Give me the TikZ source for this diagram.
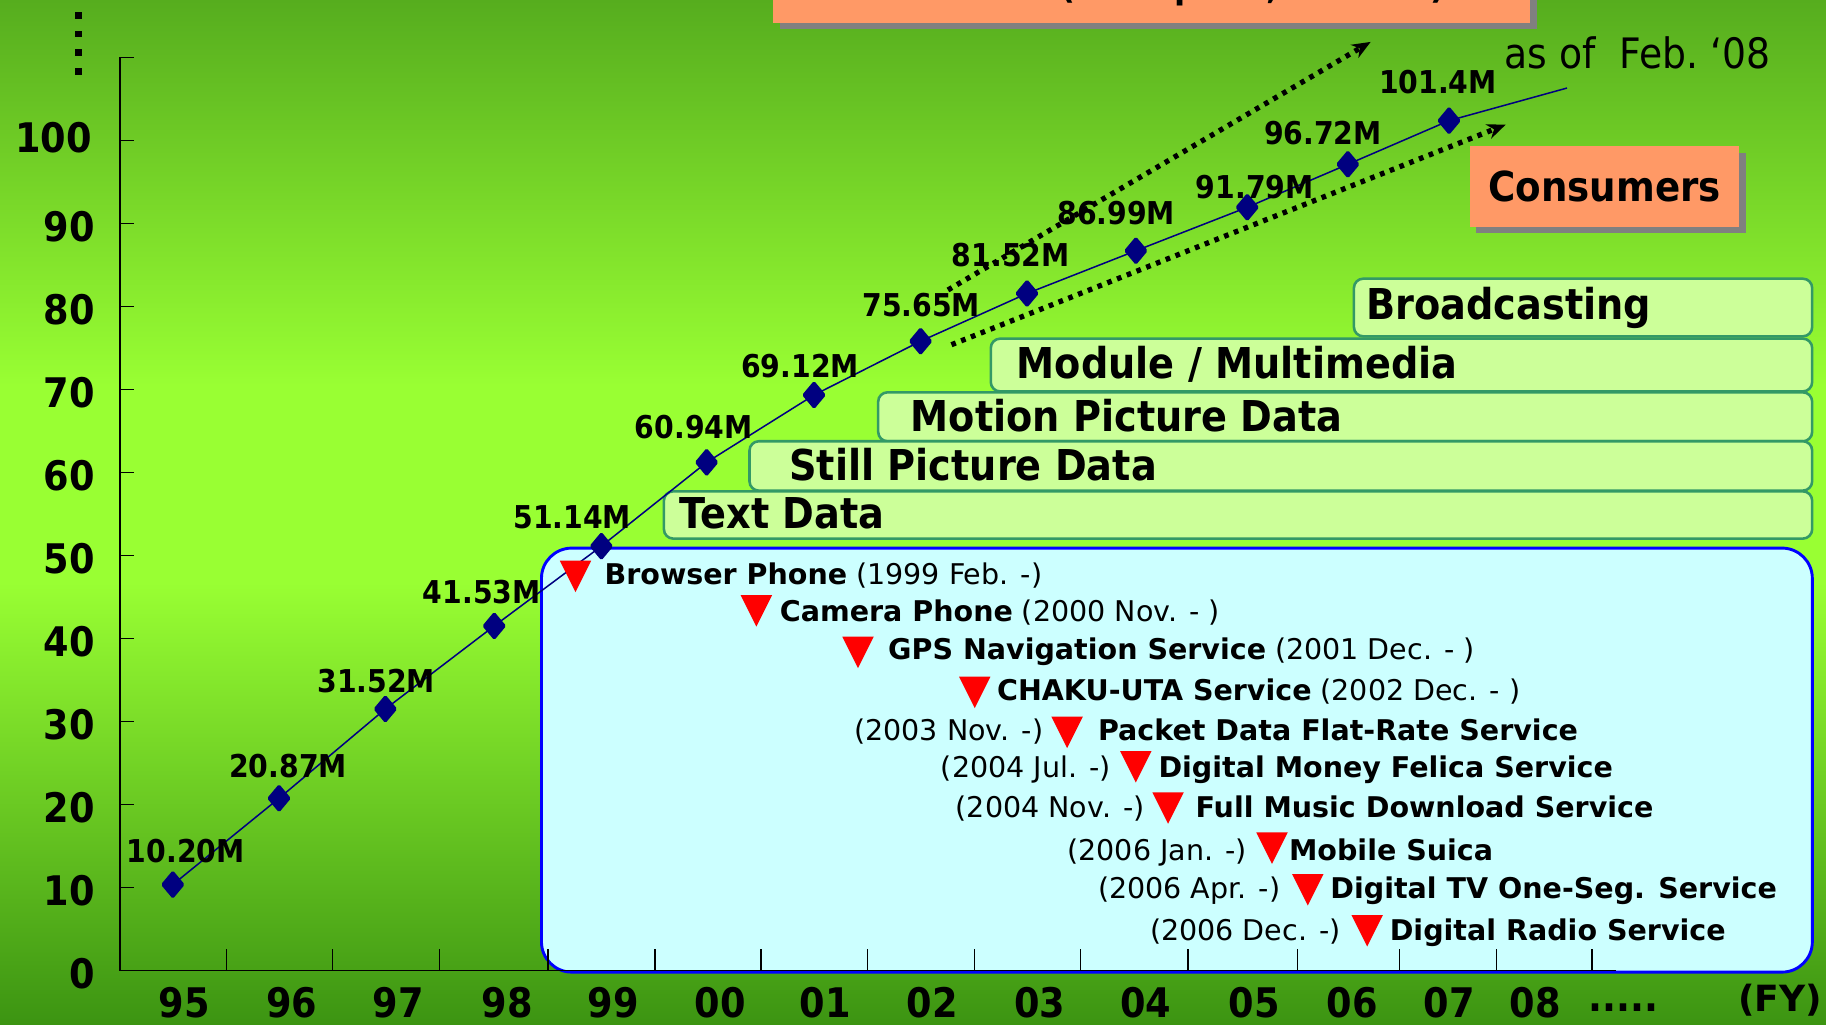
\documentclass[tikz,border=0pt]{standalone}
\usepackage{fontspec}
\setmainfont{DejaVu Sans}
\newfontfamily\fN{DejaVu Sans}[FakeStretch=0.9]
\usetikzlibrary{arrows.meta,shapes.geometric,shadows}
\definecolor{bgTop}{HTML}{56AD1E}
\definecolor{bgMid}{HTML}{99FF33}
\definecolor{bgBot}{HTML}{3C9412}
\definecolor{navyD}{HTML}{000080}
\definecolor{layerFill}{HTML}{CCFF99}
\definecolor{layerLine}{HTML}{339966}
\definecolor{evFill}{HTML}{CCFFFF}
\definecolor{evLine}{HTML}{0000FF}
\definecolor{evRed}{HTML}{FF0000}
\definecolor{orangeF}{HTML}{FF9966}
\definecolor{shadowG}{HTML}{808080}
\tikzset{
  ylab/.style={font=\fN\bfseries\fontsize{35}{38}\selectfont, anchor=east, inner sep=0pt},
  xlab/.style={font=\fN\bfseries\fontsize{35}{38}\selectfont, anchor=base, inner sep=0pt},
  dlab/.style={font=\fN\bfseries\fontsize{27}{30}\selectfont, inner sep=0pt},
  dpt/.style={diamond, fill=navyD, minimum width=20.5pt, minimum height=24.5pt, inner sep=0pt, outer sep=0pt, rounded corners=1.5pt},
  dline/.style={draw=navyD, line width=1.3pt},
  axisline/.style={draw=black, line width=1.2pt},
  layerbox/.style={draw=layerLine, fill=layerFill, line width=2.2pt, rounded corners=8pt, anchor=north west, inner sep=0pt},
  layertext/.style={font=\fN\bfseries\fontsize{36.5}{40}\selectfont, anchor=base west, inner sep=0pt},
  evbox/.style={draw=evLine, fill=evFill, line width=2.5pt, rounded corners=26pt, anchor=north west, inner sep=0pt},
  evtext/.style={font=\fontsize{24.5}{28}\selectfont, anchor=base west, inner sep=0pt},
  evbold/.style={font=\bfseries\fontsize{24.5}{28}\selectfont, anchor=base west, inner sep=0pt},
  evtri/.pic={\fill[evRed] (-13.5,0) -- (13.5,0) -- (0,27) -- cycle;},
  orangebox/.style={fill=orangeF, draw=none, inner sep=0pt, anchor=north west,
    drop shadow={shadow xshift=5.5pt, shadow yshift=-5.5pt, fill=shadowG, opacity=1}},
  dotarrow/.style={draw=black, line width=4.5pt, dash pattern=on 4pt off 5pt,
    -{Stealth[length=16pt,width=13pt]}},
}
\begin{document}
\begin{tikzpicture}[x=1pt,y=-1pt]
\useasboundingbox (0,0) rectangle (1568,880);
\clip (0,0) rectangle (1568,880);
% background
\shade[top color=bgTop, bottom color=bgMid] (0,0) rectangle (1568,331);
\fill[bgMid] (0,330) rectangle (1568,501);
\shade[top color=bgMid, bottom color=bgBot] (0,500) rectangle (1568,880);

% layer boxes
\node[layerbox, minimum width=393.5pt, minimum height=49.5pt] (bbox) at (1161.5,238.2) {};
\node[layerbox, minimum width=705.3pt, minimum height=45.3pt] (mmbox) at (849.7,289.7) {};
\node[layerbox, minimum width=802pt, minimum height=42pt] (mpbox) at (753,335.8) {};
\node[layerbox, minimum width=912.5pt, minimum height=42.4pt] (spbox) at (642.5,377.8) {};
\node[layerbox, minimum width=986pt, minimum height=40.6pt] (tdbox) at (569,420.8) {};
\node[layertext] (btxt) at (1173,274) {Broadcasting};
\node[layertext] (mmtxt) at (873,324.9) {Module / Multimedia};
\node[layertext] (mptxt) at (782,370.7) {Motion Picture Data};
\node[layertext] (sptxt) at (677.5,412.2) {Still Picture Data};
\node[layertext] (tdtxt) at (583.3,453.7) {Text Data};

% event box
\node[evbox, minimum width=1091.3pt, minimum height=364.1pt] (evb) at (463.7,469.4) {};

% orange boxes
\node[orangebox, minimum width=650pt, minimum height=79.5pt] (bizbox) at (664,-60) {};
\node[font=\fN\bfseries\fontsize{31}{34}\selectfont, anchor=base west, inner sep=0pt] (biztxt) at (726,-1.5) {Businesses (Enterprise, Schools)};
\node[orangebox, minimum width=231.5pt, minimum height=69.3pt, font=\fN\bfseries\fontsize{35.5}{38}\selectfont] (cons) at (1262,125.4) {Consumers};

% axes
\draw[axisline] (103,49.2) -- (103,833.5) -- (1388,833.5);
\foreach \v in {0,...,11} {
  \draw[axisline] (103,{833.5-71.3*\v}) -- (115.3,{833.5-71.3*\v});
}
\foreach \x in {194.3,285.6,377.6,470.4,562.5,653.5,745,837,928,1020,1114,1202,1285,1367} {
  \draw[axisline] (\x,833.5) -- (\x,815);
}
% vertical ellipsis
\foreach \yy in {13.5,29.2,45.5,61.5} {
  \fill[black] (64.5,\yy-3) rectangle (70.5,\yy+3);
}
% y labels
\node[ylab] (y100) at (79,118) {100};
\node[ylab] (y90) at (81.5,194.8) {90};
\node[ylab] (y80) at (81.5,266.1) {80};
\node[ylab] (y70) at (81.5,337.4) {70};
\node[ylab] (y60) at (81.5,408.7) {60};
\node[ylab] (y50) at (81.5,480) {50};
\node[ylab] (y40) at (81.5,551.3) {40};
\node[ylab] (y30) at (81.5,622.6) {30};
\node[ylab] (y20) at (81.5,693.9) {20};
\node[ylab] (y10) at (81.5,765.2) {10};
\node[ylab] (y0) at (81.5,836.5) {0};
% x labels
\node[xlab] (x95) at (158,873.6) {95};
\node[xlab] (x96) at (250.5,873.6) {96};
\node[xlab] (x97) at (342,873.6) {97};
\node[xlab] (x98) at (435.6,873.6) {98};
\node[xlab] (x99) at (526.8,873.6) {99};
\node[xlab] (x00) at (618.3,873.6) {00};
\node[xlab] (x01) at (708.5,873.6) {01};
\node[xlab] (x02) at (800.3,873.6) {02};
\node[xlab] (x03) at (892.7,873.6) {03};
\node[xlab] (x04) at (983.9,873.6) {04};
\node[xlab] (x05) at (1077.2,873.6) {05};
\node[xlab] (x06) at (1161.3,874) {06};
\node[xlab] (x07) at (1244.3,874) {07};
\node[xlab] (x08) at (1318.5,873.6) {08};
\node[xlab, anchor=base west] (xdots) at (1364,869) {.....};
\node[font=\bfseries\fontsize{31}{34}\selectfont, anchor=base west, inner sep=0pt] (fy) at (1492.6,868.7) {(FY)};

% data points
\node[dpt] (d95) at (148.4,759.6) {};
\node[dpt] (d96) at (239.6,685.5) {};
\node[dpt] (d97) at (330.9,608.8) {};
\node[dpt] (d98) at (424.4,537.5) {};
\node[dpt] (d99) at (516.4,469) {};
\node[dpt] (d00) at (606.8,397) {};
\node[dpt] (d01) at (699,339.2) {};
\node[dpt] (d02) at (790.5,293) {};
\node[dpt] (d03) at (881.9,252) {};
\node[dpt] (d04) at (975.4,215.3) {};
\node[dpt] (d05) at (1071,178) {};
\node[dpt] (d06) at (1157.4,141.1) {};
\node[dpt] (d07) at (1244.3,103.6) {};
\coordinate (dend) at (1345.6,75.6);
\draw[dline] (d95.center) -- (d96.center) -- (d97.center) -- (d98.center) -- (d99.center)
  -- (d00.center) -- (d01.center) -- (d02.center) -- (d03.center) -- (d04.center)
  -- (d05.center) -- (d06.center) -- (d07.center) -- (dend);

% data labels
\node[dlab] (l95) at (159.5,730.7) {10.20M};
\node[dlab] (l96) at (247.4,657.8) {20.87M};
\node[dlab] (l97) at (323,584.8) {31.52M};
\node[dlab] (l98) at (413.7,508.5) {41.53M};
\node[dlab] (l99) at (491.3,444.2) {51.14M};
\node[dlab] (l00) at (595.7,366.4) {60.94M};
\node[dlab] (l01) at (687,314.3) {69.12M};
\node[dlab] (l02) at (791,262) {75.65M};
\node[dlab] (l03) at (868,219) {81.52M};
\node[dlab] (l04) at (958.5,183.2) {86.99M};
\node[dlab] (l05) at (1077.5,160.3) {91.79M};
\node[dlab] (l06) at (1136,114.5) {96.72M};
\node[dlab] (l07) at (1234.8,70.1) {101.4M};
\node[font=\fN\fontsize{36}{40}\selectfont, anchor=base west, inner sep=0pt] (asof) at (1292,58.6) {as of\ \ Feb.\ ‘08};

% dotted arrows
\coordinate (ua1) at (814,249);
\coordinate (ua2) at (1177,36);
\coordinate (la1) at (817,296);
\coordinate (la2) at (1293,107);
\draw[dotarrow] (ua1) -- (ua2);
\draw[dotarrow] (la1) -- (la2);

% events
\pic (t1) at (494.2,481.5) {evtri};
\node[evtext] (e1) at (519,501.5) {{\bfseries Browser Phone} (1999 Feb. -)};
\pic (t2) at (649.5,511) {evtri};
\node[evtext] (e2) at (669.5,533.8) {{\bfseries Camera Phone} (2000 Nov. - )};
\pic (t3) at (736.8,546.7) {evtri};
\node[evtext] (e3) at (762.5,566.2) {{\bfseries GPS Navigation Service} (2001 Dec. - )};
\pic (t4) at (837,581) {evtri};
\node[evtext] (e4) at (856,601.1) {{\bfseries CHAKU-UTA Service} (2002 Dec. - )};
\node[evtext] (e5d) at (733.4,635.5) {(2003 Nov. -)};
\pic (t5) at (916.3,615.4) {evtri};
\node[evbold] (e5) at (942.7,635.5) {Packet Data Flat-Rate Service};
\node[evtext] (e6d) at (807.8,667.5) {(2004 Jul. -)};
\pic (t6) at (975.3,645) {evtri};
\node[evbold] (e6) at (994.6,667.5) {Digital Money Felica Service};
\node[evtext] (e7d) at (820.6,701.9) {(2004 Nov. -)};
\pic (t7) at (1003,680.4) {evtri};
\node[evbold] (e7) at (1026.5,701.9) {Full Music Download Service};
\node[evtext] (e8d) at (916.5,738.5) {(2006 Jan. -)};
\pic (t8) at (1092.3,714.8) {evtri};
\node[evbold] (e8) at (1106.7,738.5) {Mobile Suica};
\node[evtext] (e9d) at (942.7,771.4) {(2006 Apr. -)};
\pic (t9) at (1123,750.6) {evtri};
\node[evbold] (e9) at (1142.2,771.4) {Digital TV One-Seg. Service};
\node[evtext] (e10d) at (987.4,807.2) {(2006 Dec. -)};
\pic (t10) at (1174,785.8) {evtri};
\node[evbold] (e10) at (1193.2,807.2) {Digital Radio Service};
\end{tikzpicture}
\end{document}
